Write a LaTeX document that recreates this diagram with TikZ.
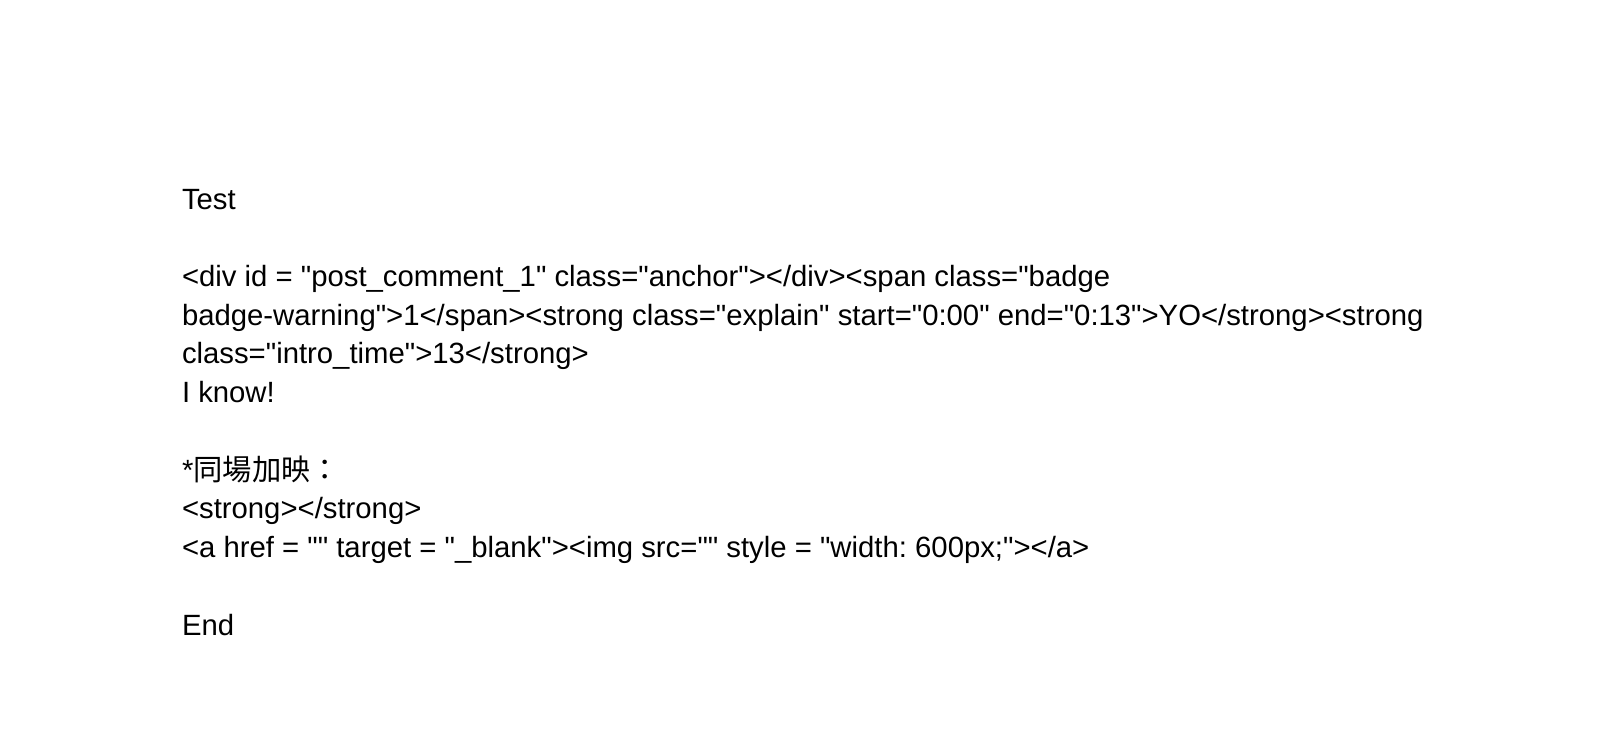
\documentclass[tikz,border=0pt]{standalone}
\usepackage{fontspec}
\setmainfont{Liberation Sans}[Ligatures=TeXOff]
\newfontfamily\cjk{Noto Sans CJK TC}
\frenchspacing
\begin{document}
\begin{tikzpicture}[x=1pt,y=-1pt,
  txt/.style={anchor=base west,inner sep=0pt,outer sep=0pt,font=\fontsize{29.3}{38.7}\selectfont\frenchspacing}]
\useasboundingbox[fill=white] (0,0) rectangle (1614,744);
\node[txt] (l1) at (182,209) {Test};
\node[txt] (l2) at (182,286.5) {<div id = "post\_comment\_1" class="anchor"></div><span class="badge};
\node[txt] (l3) at (182,325.2) {badge-warning">1</span><strong class="explain" start="0:00" end="0:13">YO</strong><strong};
\node[txt] (l4) at (182,363.9) {class="intro\_time">13</strong>};
\node[txt] (l5) at (182,402.6) {I know!};
\node[txt] (l6) at (182,480.1) {*{\cjk 同場加映：}};
\node[txt] (l7) at (182,518.8) {<strong></strong>};
\node[txt] (l8) at (182,557.6) {<a href = "" target = "\_blank"><img src="" style = "width: 600px;"></a>};
\node[txt] (l9) at (182,635) {End};
\end{tikzpicture}
\end{document}
